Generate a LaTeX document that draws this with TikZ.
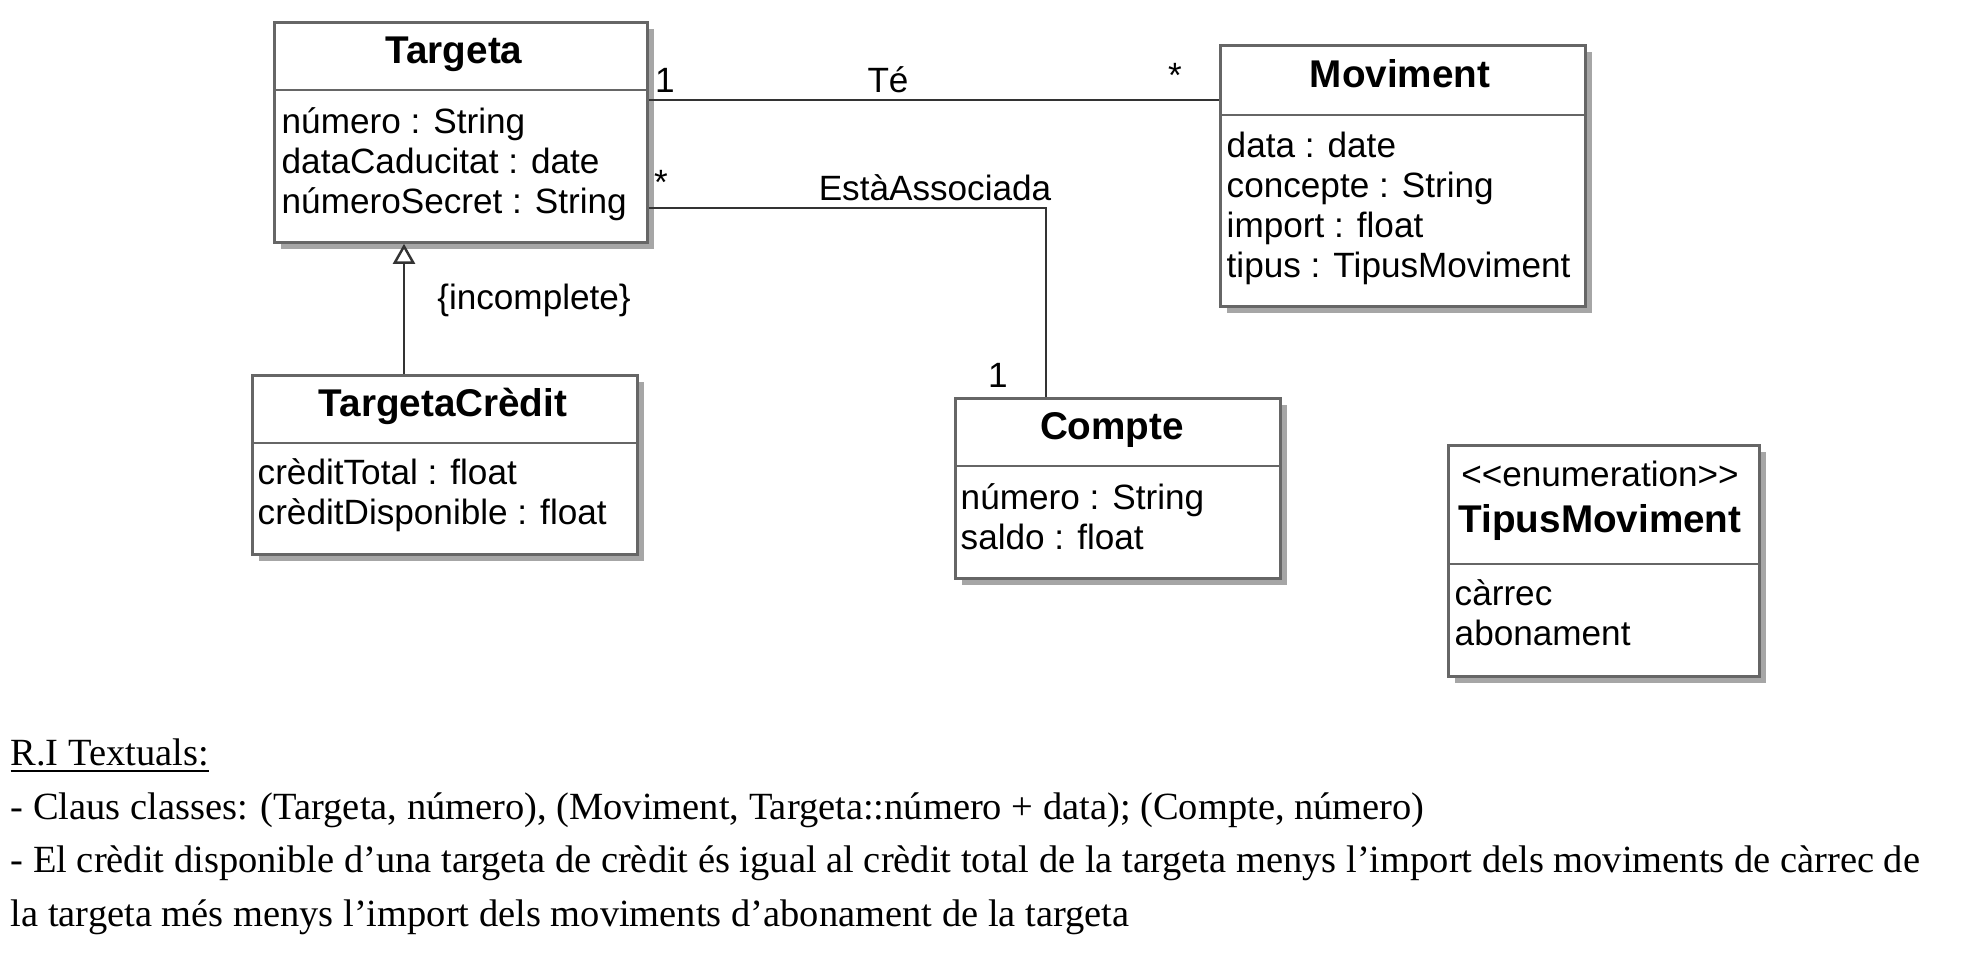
\documentclass[tikz,border=0pt]{standalone}
\usepackage{fontspec}
\setmainfont{Liberation Serif}
\setsansfont{Liberation Sans}
\usetikzlibrary{arrows.meta}
\usetikzlibrary{positioning}
\usetikzlibrary{shadows}
\tikzset{umlclass/.style = {draw=black!60, line width=0.8pt, fill=white, inner sep=0pt, anchor=north west,
                            drop shadow={shadow xshift=0.07cm, shadow yshift=-0.07cm, fill=black!35, opacity=1}}}
\tikzset{divider/.style = {draw=black!60, line width=0.8pt}}
\tikzset{classtitle/.style = {font=\sffamily\bfseries\fontsize{11}{13}\selectfont, inner sep=0pt}}
\tikzset{attrlist/.style = {font=\sffamily\fontsize{10}{11.4}\selectfont, align=left, anchor=west, inner sep=0pt}}
\tikzset{rolelabel/.style = {font=\sffamily\fontsize{10}{12}\selectfont, inner sep=0pt}}
\tikzset{umlline/.style = {draw=black!80, line width=0.7pt}}
\tikzset{inherits/.style = {umlline, -{Triangle[open, width=0.22cm, length=0.2cm]}}}
\tikzset{ritext/.style = {font=\fontsize{10.95}{15.37}\selectfont, align=left, anchor=west, inner sep=0pt}}

\begin{document}
\begin{tikzpicture}
    \useasboundingbox (0,0) rectangle (19.66,-9.60);
    % classes
    \node[umlclass, minimum width=3.73cm, minimum height=2.20cm] (targeta) at (2.73,-0.21) {};
    \draw[divider] ([yshift=-0.69cm]targeta.north west) -- ([yshift=-0.69cm]targeta.north east);
    \node[classtitle] (targetaname) at (4.54,-0.54) {Targeta};
    \node[attrlist] (targetaattr) at (2.81,-1.645) {número : String\\dataCaducitat : date\\númeroSecret : String};

    \node[umlclass, minimum width=3.65cm, minimum height=2.61cm] (moviment) at (12.19,-0.44) {};
    \draw[divider] ([yshift=-0.71cm]moviment.north west) -- ([yshift=-0.71cm]moviment.north east);
    \node[classtitle] (movimentname) at (14.00,-0.74) {Moviment};
    \node[attrlist] (movimentattr) at (12.26,-2.08) {data : date\\concepte : String\\import : float\\tipus : TipusMoviment};

    \node[umlclass, minimum width=3.85cm, minimum height=1.79cm] (tcredit) at (2.51,-3.74) {};
    \draw[divider] ([yshift=-0.69cm]tcredit.north west) -- ([yshift=-0.69cm]tcredit.north east);
    \node[classtitle] (tcreditname) at (4.43,-4.06) {TargetaCrèdit};
    \node[attrlist] (tcreditattr) at (2.57,-4.955) {crèditTotal : float\\crèditDisponible : float};

    \node[umlclass, minimum width=3.25cm, minimum height=1.80cm] (compte) at (9.54,-3.97) {};
    \draw[divider] ([yshift=-0.69cm]compte.north west) -- ([yshift=-0.69cm]compte.north east);
    \node[classtitle] (comptename) at (11.12,-4.30) {Compte};
    \node[attrlist] (compteattr) at (9.60,-5.17) {número : String\\saldo : float};

    \node[umlclass, minimum width=3.11cm, minimum height=2.31cm] (tipus) at (14.47,-4.44) {};
    \draw[divider] ([yshift=-1.20cm]tipus.north west) -- ([yshift=-1.20cm]tipus.north east);
    \node[rolelabel] (tipusstereo) at (16.00,-4.74) {<{}<enumeration>{}>};
    \node[classtitle] (tipusname) at (16.00,-5.22) {TipusMoviment};
    \node[attrlist] (tipusattr) at (14.54,-6.13) {càrrec\\abonament};

    % associations
    \draw[umlline] ([yshift=-0.79cm]targeta.north east) -- ([yshift=-0.56cm]moviment.north west);
    \draw[umlline] ([yshift=-1.87cm]targeta.north east) -| ([xshift=0.92cm]compte.north west);
    \draw[inherits] ([xshift=1.53cm]tcredit.north west) -- ([xshift=1.31cm]targeta.south west);
    \node[rolelabel] (temult1) at (6.65,-0.80) {1};
    \node[rolelabel] (tename) at (8.88,-0.80) {Té};
    \node[rolelabel] (temult2) at (11.75,-0.75) {*};
    \node[rolelabel] (assocmult1) at (6.61,-1.82) {*};
    \node[rolelabel] (assocname) at (9.35,-1.88) {EstàAssociada};
    \node[rolelabel] (assocmult2) at (9.98,-3.75) {1};
    \node[rolelabel] (genlabel) at (5.34,-3.00) {\{incomplete\}};

    % textual constraints
    \node[ritext] (rititle) at (0.10,-7.56) {\underline{R.I Textuals:}};
    \node[ritext] (riclaus) at (0.10,-8.10) {- Claus classes: (Targeta, número), (Moviment, Targeta::número + data); (Compte, número)};
    \node[ritext] (ricredit) at (0.10,-8.905) {- El crèdit disponible d’una targeta de crèdit és igual al crèdit total de la targeta menys l’import dels moviments de càrrec de\\la targeta més menys l’import dels moviments d’abonament de la targeta};
\end{tikzpicture}
\end{document}
